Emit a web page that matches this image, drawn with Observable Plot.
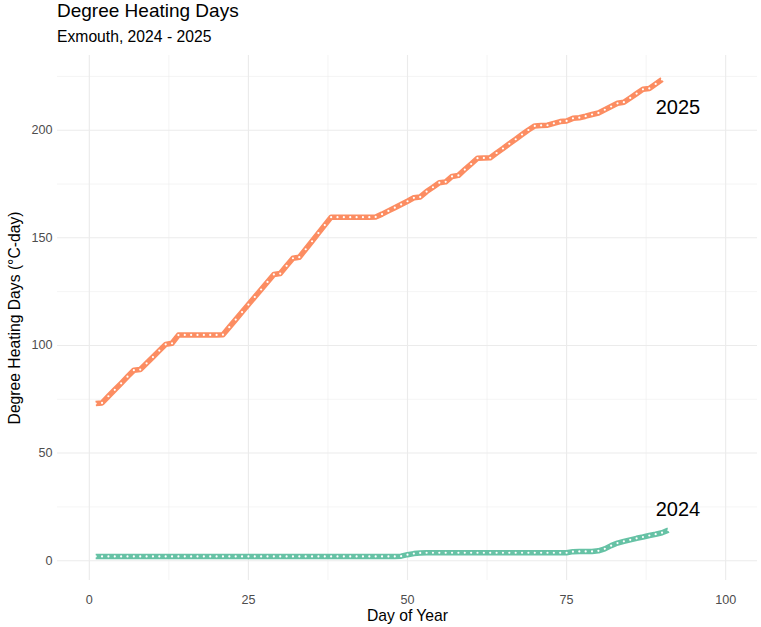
<!DOCTYPE html>
<html>
<head>
<meta charset="utf-8">
<script src="https://cdn.jsdelivr.net/npm/d3@7"></script>
<script src="https://cdn.jsdelivr.net/npm/@observablehq/plot@0.6"></script>
<style>
  body { margin: 0; background: #fff; font-family: "Liberation Sans", Arial, sans-serif; }
  #wrap { position: relative; width: 761px; height: 627px; }
  #head { position: relative; height: 52px; }
  .title { position: absolute; left: 57px; top: 0px; font-size: 19px; line-height: 22px; color: #000; white-space: nowrap; }
  .subtitle { position: absolute; left: 57px; top: 26.5px; font-size: 15.7px; line-height: 20px; color: #000; white-space: nowrap; }
</style>
</head>
<body>
<div id="wrap">
  <div id="head">
    <div class="title">Degree Heating Days</div>
    <div class="subtitle">Exmouth, 2024 - 2025</div>
  </div>
  <div id="chart"></div>
</div>
<script>
// Day-of-year values, degree heating days (°C-day)
const dhd2025 = [
  73.0, 73.3, 76.4, 79.4, 82.4, 85.5, 88.5, 88.8, 91.7, 94.6,
  97.6, 100.5, 101.0, 104.8, 104.9, 104.9, 104.9, 104.9, 104.9, 104.9,
  105.0, 108.5, 112.0, 115.5, 119.0, 122.5, 126.0, 129.5, 133.0, 133.4,
  137.0, 140.5, 141.0, 144.7, 148.4, 152.2, 155.9, 159.6, 159.6, 159.6,
  159.6, 159.6, 159.6, 159.6, 159.7, 161.0, 162.5, 164.0, 165.5, 167.0,
  168.6, 169.0, 171.5, 173.5, 175.6, 176.0, 178.5, 179.0, 181.7, 184.3,
  187.0, 187.1, 187.2, 189.4, 191.5, 193.7, 195.8, 198.0, 200.1, 202.0,
  202.2, 202.3, 203.2, 204.0, 204.3, 205.5, 205.8, 206.5, 207.3, 208.0,
  209.5, 211.0, 212.5, 213.0, 215.0, 217.0, 219.0, 219.4, 221.5, 223.6
];
const dhd2024 = [
  2.0, 2.0, 2.0, 2.0, 2.0, 2.0, 2.0, 2.0, 2.0, 2.0,
  2.0, 2.0, 2.0, 2.0, 2.0, 2.0, 2.0, 2.0, 2.0, 2.0,
  2.0, 2.0, 2.0, 2.0, 2.0, 2.0, 2.0, 2.0, 2.0, 2.0,
  2.0, 2.0, 2.0, 2.0, 2.0, 2.0, 2.0, 2.0, 2.0, 2.0,
  2.0, 2.0, 2.0, 2.0, 2.0, 2.0, 2.0, 2.0, 2.1, 2.8,
  3.3, 3.6, 3.7, 3.7, 3.7, 3.7, 3.7, 3.7, 3.7, 3.7,
  3.7, 3.7, 3.7, 3.7, 3.7, 3.7, 3.7, 3.7, 3.7, 3.7,
  3.7, 3.7, 3.7, 3.7, 3.7, 4.2, 4.3, 4.3, 4.3, 4.6,
  5.5, 7.0, 8.2, 9.0, 9.7, 10.4, 11.0, 11.7, 12.3, 13.0,
  14.2
];
const seriesYears = ["2024", "2025"];
const seriesColors = ["#66C2A5", "#FC8D62"];
const labelDays = [92.5, 92.5];
const labelValues = [23.9, 210.6];
const xTicks = [0, 25, 50, 75, 100];
const xMinor = [12.5, 37.5, 62.5, 87.5];
const yTicks = [0, 50, 100, 150, 200];
const yMinor = [25, 75, 125, 175, 225];

const rows = [
  ...dhd2024.map((v, i) => ({year: "2024", day: i + 1, dhd: v})),
  ...dhd2025.map((v, i) => ({year: "2025", day: i + 1, dhd: v}))
];
const labels = seriesYears.map((y, i) => ({year: y, day: labelDays[i], dhd: labelValues[i]}));

const chart = Plot.plot({
  width: 761,
  height: 575,
  marginLeft: 57,
  marginRight: 4,
  marginTop: 3,
  marginBottom: 47,
  style: {fontFamily: "Liberation Sans, Arial, sans-serif", background: "#fff", overflow: "visible"},
  x: {domain: [-5, 105]},
  y: {domain: [-9.2, 234.7]},
  color: {domain: seriesYears, range: seriesColors},
  marks: [
    Plot.gridX(xMinor, {stroke: "#ebebeb", strokeOpacity: 1, strokeWidth: 0.55}),
    Plot.gridY(yMinor, {stroke: "#ebebeb", strokeOpacity: 1, strokeWidth: 0.55}),
    Plot.gridX(xTicks, {stroke: "#ebebeb", strokeOpacity: 1, strokeWidth: 1.1}),
    Plot.gridY(yTicks, {stroke: "#ebebeb", strokeOpacity: 1, strokeWidth: 1.1}),
    Plot.axisX(xTicks, {tickSize: 0, tickPadding: 15, fontSize: 12.6, fill: "#4d4d4d",
      label: "Day of Year", labelAnchor: "center", labelOffset: 40, labelArrow: "none"}),
    Plot.axisY(yTicks, {tickSize: 0, tickPadding: 5, fontSize: 12.6, fill: "#4d4d4d",
      label: "Degree Heating Days (°C-day)", labelAnchor: "center", labelOffset: 49, labelArrow: "none"}),
    Plot.line(rows, {x: "day", y: "dhd", z: "year", stroke: "year", strokeWidth: 5.5,
      strokeLinecap: "butt", strokeLinejoin: "round"}),
    Plot.dot(rows, {x: "day", y: "dhd", r: 1.1, fill: "white", stroke: "none"}),
    Plot.text(labels, {x: "day", y: "dhd", text: "year", fontSize: 20, fill: "#000",
      textAnchor: "middle", lineAnchor: "middle"})
  ]
});
chart.querySelectorAll("g[aria-label='x-axis label'], g[aria-label='y-axis label']").forEach(g => {
  g.setAttribute("font-size", "15.7"); g.setAttribute("fill", "#000");
});
chart.querySelectorAll("g[aria-label='x-axis label'] text, g[aria-label='y-axis label'] text").forEach(t => {
  t.setAttribute("font-size", "15.7"); t.setAttribute("fill", "#000");
});
document.getElementById("chart").appendChild(chart);
</script>
</body>
</html>
